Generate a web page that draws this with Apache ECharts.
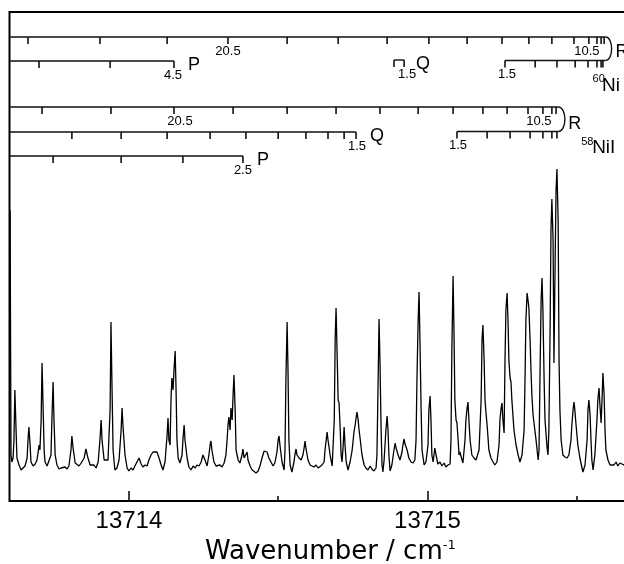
<!DOCTYPE html>
<html><head><meta charset="utf-8">
<script src="https://cdn.jsdelivr.net/npm/echarts@6/dist/echarts.min.js"></script>
<style>html,body{margin:0;padding:0;background:#fff}#c{width:624px;height:564px}</style>
</head><body><div id="c"></div>
<script>
// ---------------- data ----------------
// spectrum: [wavenumber / cm-1, intensity (arb. units)]
const spectrum = [
[13713.602,58.2],[13713.605,9.2],[13713.608,7.8],[13713.612,8.6],[13713.615,12.2],[13713.618,22.2],[13713.622,14.2],[13713.625,8.6],
[13713.632,7.2],[13713.639,6.2],[13713.645,6.6],[13713.652,7.0],[13713.659,8.6],[13713.662,12.2],[13713.665,14.8],[13713.669,11.2],
[13713.672,7.8],[13713.679,7.0],[13713.686,7.4],[13713.692,8.2],[13713.696,9.8],[13713.699,11.2],[13713.702,10.2],[13713.706,16.2],
[13713.709,27.6],[13713.712,20.2],[13713.716,10.2],[13713.719,7.8],[13713.726,7.0],[13713.732,7.2],[13713.739,9.2],[13713.742,16.2],
[13713.746,23.8],[13713.749,16.2],[13713.753,9.2],[13713.759,7.2],[13713.766,6.4],[13713.773,6.6],[13713.779,6.2],[13713.786,6.8],
[13713.793,6.4],[13713.799,7.0],[13713.806,10.2],[13713.809,13.0],[13713.813,10.6],[13713.820,7.6],[13713.826,7.2],[13713.833,7.0],
[13713.840,7.6],[13713.850,8.6],[13713.856,10.4],[13713.863,8.6],[13713.870,7.2],[13713.876,6.8],[13713.883,7.2],[13713.890,6.6],
[13713.897,7.8],[13713.903,12.2],[13713.907,16.2],[13713.910,12.2],[13713.917,8.2],[13713.923,7.8],[13713.930,8.2],[13713.937,18.2],
[13713.940,35.8],[13713.943,24.2],[13713.947,10.2],[13713.953,6.2],[13713.960,6.6],[13713.967,8.2],[13713.974,14.2],[13713.977,18.6],
[13713.980,15.2],[13713.987,9.2],[13713.994,6.6],[13714.000,6.0],[13714.007,6.6],[13714.014,6.2],[13714.020,7.0],[13714.027,7.8],
[13714.034,8.6],[13714.041,7.4],[13714.047,6.8],[13714.054,7.2],[13714.061,7.0],[13714.067,8.2],[13714.074,9.2],[13714.081,9.8],
[13714.087,10.2],[13714.094,9.8],[13714.101,8.6],[13714.108,7.2],[13714.114,6.2],[13714.121,7.8],[13714.128,13.2],[13714.131,16.6],
[13714.134,12.2],[13714.138,11.2],[13714.141,20.2],[13714.144,24.6],[13714.148,22.2],[13714.151,26.2],[13714.155,30.0],[13714.158,22.2],
[13714.161,12.2],[13714.165,8.6],[13714.171,7.6],[13714.178,9.2],[13714.181,12.2],[13714.185,15.2],[13714.188,12.2],[13714.195,8.6],
[13714.201,6.8],[13714.208,6.2],[13714.215,7.0],[13714.222,6.6],[13714.228,7.2],[13714.235,7.0],[13714.242,7.8],[13714.248,9.2],
[13714.255,8.2],[13714.262,7.0],[13714.268,9.2],[13714.272,11.2],[13714.275,12.0],[13714.278,10.2],[13714.285,7.8],[13714.292,7.0],
[13714.298,6.6],[13714.305,7.2],[13714.312,6.8],[13714.319,7.6],[13714.325,9.2],[13714.329,12.2],[13714.332,15.2],[13714.335,16.8],
[13714.339,14.2],[13714.342,18.6],[13714.346,16.2],[13714.349,21.2],[13714.352,25.2],[13714.356,18.2],[13714.359,10.2],[13714.366,8.2],
[13714.372,7.6],[13714.379,9.2],[13714.382,10.4],[13714.386,8.6],[13714.392,9.0],[13714.396,9.8],[13714.399,8.2],[13714.406,7.0],
[13714.413,6.2],[13714.419,5.8],[13714.426,5.6],[13714.433,6.0],[13714.439,7.0],[13714.446,8.6],[13714.453,10.0],[13714.456,10.4],
[13714.463,9.8],[13714.469,8.6],[13714.476,7.8],[13714.483,7.0],[13714.489,7.6],[13714.496,9.8],[13714.500,12.2],[13714.503,13.0],
[13714.506,11.2],[13714.513,7.8],[13714.520,6.2],[13714.523,10.2],[13714.526,24.2],[13714.530,35.8],[13714.533,26.2],[13714.536,12.2],
[13714.540,7.2],[13714.546,5.8],[13714.553,7.8],[13714.556,9.2],[13714.560,10.4],[13714.563,9.2],[13714.570,8.6],[13714.577,8.2],
[13714.583,9.2],[13714.587,10.6],[13714.590,12.0],[13714.593,10.6],[13714.600,8.2],[13714.607,7.2],[13714.613,7.6],[13714.620,6.8],
[13714.627,7.2],[13714.634,6.6],[13714.640,7.0],[13714.647,7.2],[13714.654,7.8],[13714.657,10.2],[13714.661,12.2],[13714.664,13.8],
[13714.667,12.2],[13714.671,10.6],[13714.674,9.2],[13714.681,7.0],[13714.684,6.6],[13714.688,16.2],[13714.691,32.2],[13714.694,38.6],
[13714.698,28.2],[13714.701,20.2],[13714.704,19.6],[13714.708,14.2],[13714.711,9.2],[13714.714,7.8],[13714.718,11.2],[13714.721,14.8],
[13714.724,11.2],[13714.728,7.8],[13714.734,6.2],[13714.741,7.8],[13714.748,10.2],[13714.754,13.8],[13714.758,15.2],[13714.761,16.6],
[13714.764,17.8],[13714.768,16.2],[13714.771,14.2],[13714.774,12.8],[13714.781,9.2],[13714.788,7.2],[13714.794,6.6],[13714.801,6.2],
[13714.808,7.0],[13714.814,6.4],[13714.821,6.0],[13714.828,6.6],[13714.831,9.2],[13714.835,24.2],[13714.838,36.4],[13714.841,28.2],
[13714.845,14.2],[13714.848,7.2],[13714.851,5.8],[13714.855,8.2],[13714.861,14.2],[13714.865,17.0],[13714.868,14.2],[13714.871,9.2],
[13714.875,6.0],[13714.881,7.2],[13714.888,10.2],[13714.892,11.6],[13714.895,10.6],[13714.902,9.2],[13714.908,8.2],[13714.915,9.8],
[13714.918,11.2],[13714.922,12.4],[13714.925,11.4],[13714.932,10.2],[13714.938,8.6],[13714.945,7.8],[13714.952,7.6],[13714.958,8.2],
[13714.962,12.2],[13714.965,24.2],[13714.969,36.2],[13714.972,41.8],[13714.975,32.2],[13714.979,18.2],[13714.982,10.2],[13714.989,7.2],
[13714.995,7.8],[13715.002,11.2],[13715.005,18.2],[13715.009,21.0],[13715.012,16.2],[13715.015,9.2],[13715.019,7.8],[13715.022,9.2],
[13715.025,10.6],[13715.029,9.2],[13715.035,7.4],[13715.042,7.8],[13715.049,7.0],[13715.056,7.6],[13715.062,6.8],[13715.069,7.2],
[13715.076,7.4],[13715.079,12.2],[13715.082,30.2],[13715.086,45.0],[13715.089,34.2],[13715.092,20.2],[13715.096,16.2],[13715.099,15.6],
[13715.103,12.2],[13715.106,9.2],[13715.109,9.8],[13715.116,8.2],[13715.119,7.6],[13715.126,12.2],[13715.129,16.2],[13715.133,18.6],
[13715.136,19.8],[13715.139,16.2],[13715.143,12.2],[13715.149,9.2],[13715.156,8.6],[13715.163,8.2],[13715.166,7.8],[13715.173,10.2],
[13715.180,20.2],[13715.183,32.2],[13715.186,35.2],[13715.190,28.2],[13715.193,20.2],[13715.196,17.8],[13715.200,15.2],[13715.206,10.2],
[13715.213,8.6],[13715.220,7.8],[13715.226,7.2],[13715.233,7.8],[13715.240,11.2],[13715.243,16.2],[13715.247,18.6],[13715.250,19.6],
[13715.253,16.2],[13715.257,13.6],[13715.260,28.2],[13715.263,38.2],[13715.267,41.6],[13715.270,36.2],[13715.273,28.2],[13715.277,24.6],
[13715.280,23.8],[13715.283,20.2],[13715.290,14.2],[13715.297,11.2],[13715.304,9.2],[13715.310,7.8],[13715.317,9.2],[13715.324,14.2],
[13715.327,24.2],[13715.330,36.2],[13715.334,41.6],[13715.337,40.2],[13715.340,38.6],[13715.344,32.2],[13715.347,26.2],[13715.350,21.2],
[13715.354,17.2],[13715.360,14.2],[13715.364,12.2],[13715.371,8.2],[13715.374,10.2],[13715.377,24.2],[13715.381,40.2],[13715.384,44.6],
[13715.387,38.2],[13715.391,24.2],[13715.394,16.2],[13715.401,10.6],[13715.404,9.2],[13715.407,14.2],[13715.411,34.2],[13715.414,54.2],
[13715.417,60.4],[13715.421,52.2],[13715.424,27.6],[13715.428,48.2],[13715.431,62.2],[13715.434,66.4],[13715.438,56.2],[13715.441,28.2],
[13715.444,18.2],[13715.448,12.2],[13715.454,9.2],[13715.461,8.8],[13715.468,8.6],[13715.474,9.2],[13715.481,12.2],[13715.484,15.2],
[13715.488,18.2],[13715.491,19.8],[13715.494,18.2],[13715.498,15.2],[13715.504,11.2],[13715.511,8.6],[13715.518,6.6],[13715.521,5.8],
[13715.528,7.2],[13715.535,12.2],[13715.538,18.2],[13715.541,20.2],[13715.545,17.2],[13715.548,12.2],[13715.551,8.2],[13715.555,6.2],
[13715.561,9.2],[13715.568,16.2],[13715.571,20.2],[13715.575,22.6],[13715.578,19.2],[13715.582,15.6],[13715.585,20.2],[13715.588,25.6],
[13715.592,21.2],[13715.595,14.2],[13715.598,10.2],[13715.605,8.2],[13715.612,7.2],[13715.618,7.6],[13715.625,7.2],[13715.632,7.8],
[13715.638,7.0],[13715.645,7.6],[13715.652,7.4],[13715.665,7.0]
];

// assignment ladders: line positions / cm-1
const ni60_R_upper = [13713.662,13713.903,13714.128,13714.332,13714.530,13714.701,13714.865,13715.005,13715.133,13715.250,13715.340,13715.417,13715.491,13715.541,13715.568,13715.582,13715.592];
const ni60_R_lower = [13715.260,13715.361,13715.434,13715.495,13715.538,13715.568,13715.582,13715.588];
const ni60_P = [13713.699,13713.937,13714.151];
const ni60_Q = [13714.888,13714.922];
const ni60_head = 13715.597;

const ni58_R_upper = [13713.709,13713.940,13714.151,13714.349,13714.530,13714.694,13714.841,13714.969,13715.086,13715.186,13715.267,13715.337,13715.387,13715.417,13715.431];
const ni58_R_lower = [13715.099,13715.200,13715.277,13715.344,13715.387,13715.417,13715.434];
const ni58_Q = [13713.809,13713.974,13714.128,13714.272,13714.392,13714.500,13714.593,13714.667,13714.721,13714.761];
const ni58_P = [13713.746,13713.974,13714.181,13714.382];
const ni58_head = 13715.438;

// axis ticks
const majorTicks = [13714, 13715];
const minorTicks = [13714.5, 13715.5];
const tickLabels = ['13714', '13715'];

// ---------------- layout ----------------
const xMin = 13713.6, xMax = 13715.7, yMin = 0, yMax = 97.8;
const FONT = '"Liberation Sans", Arial, sans-serif';
const INK = '#111';

// ladder rows (levels in intensity units, above the spectrum)
const ladders = [
  {ticks: ni60_R_upper, level: 92.8, start: xMin, end: ni60_head, nums: [[3,'20.5',0],[13,'10.5',-2]]},
  {ticks: ni60_R_lower, level: 88.1, start: null, end: ni60_head, nums: [[0,'1.5',2]]},
  {ticks: ni60_P, level: 88.0, start: xMin, end: null, nums: [[2,'4.5',-1]], letter: 'P'},
  {ticks: ni60_Q, level: 88.2, start: null, end: null, nums: [[1,'1.5',3]], letter: 'Q', ldx: 12},
  {ticks: ni58_R_upper, level: 78.8, start: xMin, end: ni58_head, nums: [[2,'20.5',6],[12,'10.5',-4]]},
  {ticks: ni58_R_lower, level: 73.9, start: null, end: ni58_head, nums: [[0,'1.5',1]]},
  {ticks: ni58_Q, level: 73.8, start: xMin, end: null, nums: [[9,'1.5',1]], letter: 'Q'},
  {ticks: ni58_P, level: 69.0, start: xMin, end: null, nums: [[3,'2.5',0]], letter: 'P'}
];
const heads = [
  {at: ni60_head, upper: 92.8, lower: 88.1, cp: 8, rdy: 3, iso: '60', el: 'Ni', isoDx: -13, isoDy: 18, elDx: -3.5, elDy: 25},
  {at: ni58_head, upper: 78.8, lower: 73.9, cp: 9, rdy: 4.5, iso: '58', el: 'NiI', isoDx: 23, isoDy: 10.5, elDx: 34, elDy: 16.5}
];

function txt(x, y, s, size, align) {
  return {type: 'text', x: x, y: y, style: {text: s, fill: '#000', fontSize: size, fontFamily: FONT, align: align || 'center', verticalAlign: 'middle'}};
}

function renderLadder(params, api) {
  const L = ladders[params.dataIndex];
  const y = api.coord([xMin, L.level])[1];
  const px = v => api.coord([v, L.level])[0];
  const x0 = px(L.start === null ? L.ticks[0] : L.start);
  const x1 = px(L.end === null ? L.ticks[L.ticks.length - 1] : L.end);
  const st = {stroke: INK, lineWidth: 1.4};
  const ch = [{type: 'line', shape: {x1: x0, y1: y, x2: x1, y2: y}, style: st}];
  L.ticks.forEach(t => {
    const x = px(t);
    ch.push({type: 'line', shape: {x1: x, y1: y, x2: x, y2: y + 7}, style: {stroke: INK, lineWidth: 1.6}});
  });
  L.nums.forEach(n => ch.push(txt(px(L.ticks[n[0]]) + n[2], y + 14, n[1], 13)));
  if (L.letter) {
    const xl = px(L.ticks[L.ticks.length - 1]) + (L.ldx || 14);
    ch.push(txt(xl, y + 4.5, L.letter, 18, 'left'));
  }
  return {type: 'group', children: ch};
}

function renderHead(params, api) {
  const H = heads[params.dataIndex];
  const p1 = api.coord([H.at, H.upper]);
  const p2 = api.coord([H.at, H.lower]);
  const mid = (p1[1] + p2[1]) / 2;
  return {type: 'group', children: [
    {type: 'bezierCurve', shape: {x1: p1[0], y1: p1[1], cpx1: p1[0] + H.cp, cpy1: p1[1], cpx2: p2[0] + H.cp, cpy2: p2[1], x2: p2[0], y2: p2[1]},
     style: {stroke: INK, lineWidth: 1.4, fill: null}},
    txt(p1[0] + 10, mid + H.rdy, 'R', 18, 'left'),
    txt(p2[0] + H.isoDx, p2[1] + H.isoDy, H.iso, 11, 'left'),
    txt(p2[0] + H.elDx, p2[1] + H.elDy, H.el, 19, 'left')
  ]};
}

const chart = echarts.init(document.getElementById('c'), null, {renderer: 'canvas'});
chart.setOption({
  animation: false,
  backgroundColor: '#fff',
  title: {
    text: 'Wavenumber / cm{s|-1}', left: 200, top: 534,
    textStyle: {fontFamily: '"DejaVu Sans", sans-serif', fontSize: 26, fontWeight: 'normal', color: '#000',
      rich: {s: {fontFamily: '"DejaVu Sans", sans-serif', fontSize: 13, color: '#000', verticalAlign: 'top'}}}
  },
  grid: {left: 9.5, top: 12, right: -12.35, bottom: 63, show: true, borderColor: '#000', borderWidth: 2,
         backgroundColor: 'transparent', containLabel: false, outerBoundsMode: 'none'},
  xAxis: [
    {type: 'value', min: xMin, max: xMax, position: 'bottom',
     axisLine: {show: false}, splitLine: {show: false},
     axisTick: {show: true, inside: true, length: 10, lineStyle: {color: '#000', width: 1.5}, customValues: majorTicks},
     axisLabel: {show: true, margin: 8, color: '#000', fontSize: 24, fontFamily: FONT, customValues: majorTicks,
       formatter: v => tickLabels[majorTicks.indexOf(v)] || ''}},
    {type: 'value', min: xMin, max: xMax, position: 'bottom',
     axisLine: {show: false}, splitLine: {show: false},
     axisTick: {show: true, inside: true, length: 5, lineStyle: {color: '#000', width: 1.5}, customValues: minorTicks},
     axisLabel: {show: false}}
  ],
  yAxis: {type: 'value', min: yMin, max: yMax, show: false, splitLine: {show: false}},
  series: [
    {type: 'line', data: spectrum, showSymbol: false, symbol: 'none', lineStyle: {color: '#000', width: 1.3}, clip: true, z: 3},
    {type: 'custom', renderItem: renderLadder, data: ladders.map(l => [l.ticks[0], l.level]), clip: false, z: 4, silent: true},
    {type: 'custom', renderItem: renderHead, data: heads.map(h => [h.at, h.upper]), clip: false, z: 4, silent: true}
  ]
});
</script></body></html>
